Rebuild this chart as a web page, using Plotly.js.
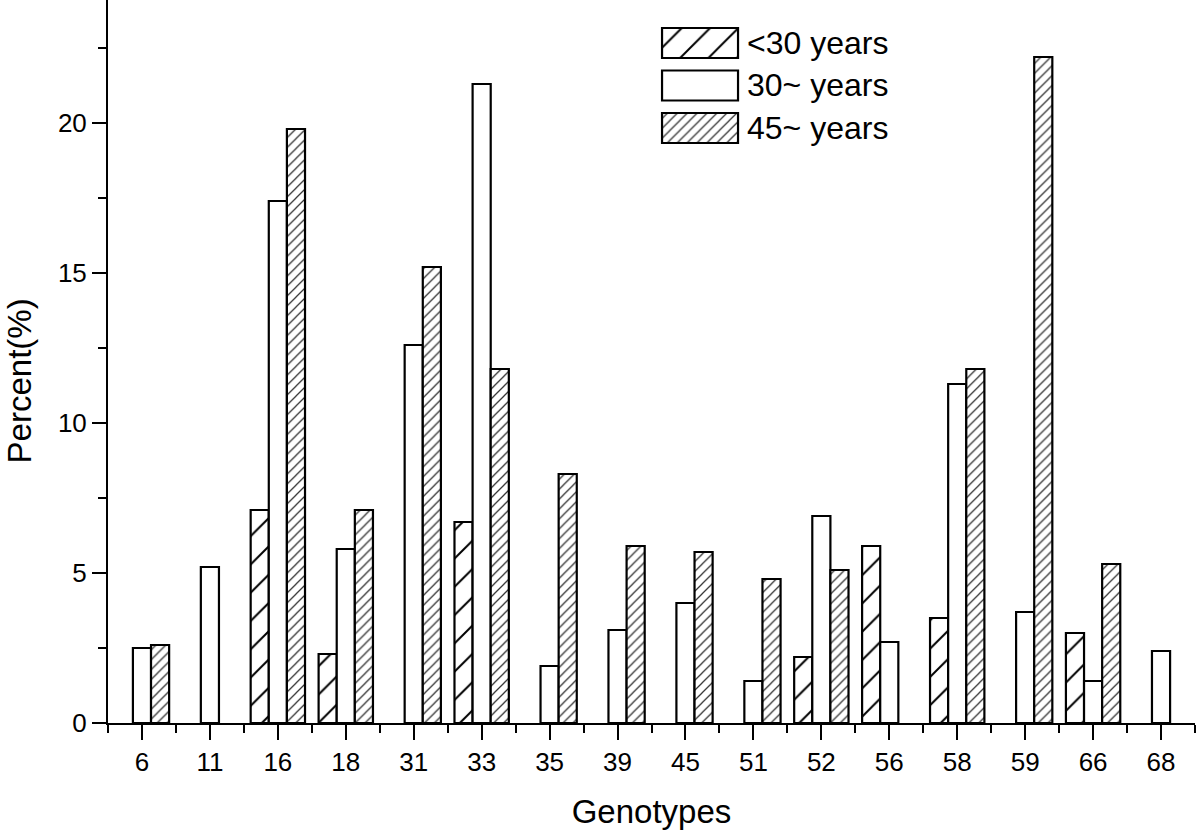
<!DOCTYPE html>
<html lang="en">
<head>
    <meta charset="UTF-8">
    <title>Genotypes by age group</title>
    <script src="https://cdn.plot.ly/plotly-3.0.1.min.js"></script>
    <style>
        body { margin: 0; background: white; }
        #plot { width: 1200px; height: 835px; }
    </style>
</head>
<body>
    <div id="plot"></div>
    <script>
        // Genotype categories on the x axis
        const genotypes = ['6', '11', '16', '18', '31', '33', '35', '39', '45', '51', '52', '56', '58', '59', '66', '68'];

        // Series names
        const seriesNames = ['<30 years', '30~ years', '45~ years'];

        // Percent values, null = no bar
        const under30 = [null, null, 7.1, 2.3, null, 6.7, null, null, null, null, 2.2, 5.9, 3.5, null, 3.0, null];
        const from30 = [2.5, 5.2, 17.4, 5.8, 12.6, 21.3, 1.9, 3.1, 4.0, 1.4, 6.9, 2.7, 11.3, 3.7, 1.4, 2.4];
        const from45 = [2.6, null, 19.8, 7.1, 15.2, 11.8, 8.3, 5.9, 5.7, 4.8, 5.1, null, 11.8, 22.2, 5.3, null];

        // hatch styles per series
        const patterns = [
            { shape: '/', size: 20, solidity: 0.1, fgcolor: '#000000', bgcolor: '#ffffff' },
            { shape: '', size: 8, solidity: 0.3, fgcolor: '#000000', bgcolor: '#ffffff' },
            { shape: '/', size: 7, solidity: 0.18, fgcolor: '#333333', bgcolor: '#ffffff' }
        ];

        const idx = genotypes.map((_, i) => i);
        const seriesValues = [under30, from30, from45];

        const data = seriesValues.map((vals, s) => ({
            type: 'bar',
            x: idx,
            y: vals,
            name: seriesNames[s],
            marker: {
                color: '#ffffff',
                line: { color: '#000000', width: 2.2 },
                pattern: patterns[s]
            }
        }));

        // legend swatches drawn as bars on a small hidden subplot
        data.push({
            type: 'bar',
            orientation: 'h',
            x: seriesNames.map(() => 1),
            y: seriesNames.map((_, i) => i),
            width: 0.706,
            xaxis: 'x2',
            yaxis: 'y2',
            hoverinfo: 'skip',
            marker: {
                color: '#ffffff',
                line: { color: '#000000', width: 2.2 },
                pattern: {
                    shape: patterns.map(p => p.shape),
                    size: patterns.map(p => p.size),
                    solidity: patterns.map(p => p.solidity),
                    fgcolor: patterns.map(p => p.fgcolor),
                    bgcolor: '#ffffff'
                }
            }
        });

        const font = 'Liberation Sans, Arial, sans-serif';

        const legendText = seriesNames.map((n, i) => ({
            xref: 'x2',
            yref: 'y2',
            x: 1.03,
            y: i,
            xanchor: 'left',
            yanchor: 'middle',
            xshift: 5,
            text: n,
            showarrow: false,
            font: { size: 32, family: font, color: '#000000' }
        }));

        // y title as annotation so it can sit a bit below the middle like the original
        const yTitle = {
            xref: 'paper',
            yref: 'paper',
            x: -0.0815,
            y: 0.473,
            xanchor: 'center',
            yanchor: 'middle',
            textangle: -90,
            text: 'Percent(%)',
            showarrow: false,
            font: { size: 33, family: font, color: '#000000' }
        };

        const layout = {
            width: 1200,
            height: 835,
            margin: { l: 108, r: 5, t: 0, b: 112 },
            paper_bgcolor: '#ffffff',
            plot_bgcolor: '#ffffff',
            font: { family: font, color: '#000000' },
            showlegend: false,
            barmode: 'group',
            bargap: 0.2,
            bargroupgap: 0,
            xaxis: {
                range: [-0.5, 15.5],
                tickvals: idx,
                ticktext: genotypes,
                ticks: 'outside',
                ticklen: 15,
                tickwidth: 2,
                tickcolor: '#000000',
                tickfont: { size: 26 },
                showline: true,
                linewidth: 2,
                linecolor: '#000000',
                showgrid: false,
                zeroline: false,
                minor: { tick0: 0.5, dtick: 1, ticks: 'outside', ticklen: 8, tickwidth: 2, tickcolor: '#000000', showgrid: false },
                title: { text: 'Genotypes', font: { size: 33 }, standoff: 24 }
            },
            yaxis: {
                range: [0, 24.1],
                dtick: 5,
                ticks: 'outside',
                ticklen: 14,
                tickwidth: 2,
                tickcolor: '#000000',
                tickfont: { size: 26 },
                showline: true,
                linewidth: 2,
                linecolor: '#000000',
                showgrid: false,
                zeroline: false,
                minor: { dtick: 2.5, ticks: 'outside', ticklen: 8, tickwidth: 2, tickcolor: '#000000', showgrid: false }
            },
            xaxis2: {
                domain: [0.5076, 0.5817],
                anchor: 'y2',
                range: [-0.03, 1.03],
                visible: false,
                fixedrange: true
            },
            yaxis2: {
                domain: [0.7936, 0.9699],
                anchor: 'x2',
                range: [2.5, -0.5],
                visible: false,
                fixedrange: true
            },
            annotations: legendText.concat([yTitle])
        };

        Plotly.newPlot('plot', data, layout, { displayModeBar: false, staticPlot: true });
    </script>
</body>
</html>
